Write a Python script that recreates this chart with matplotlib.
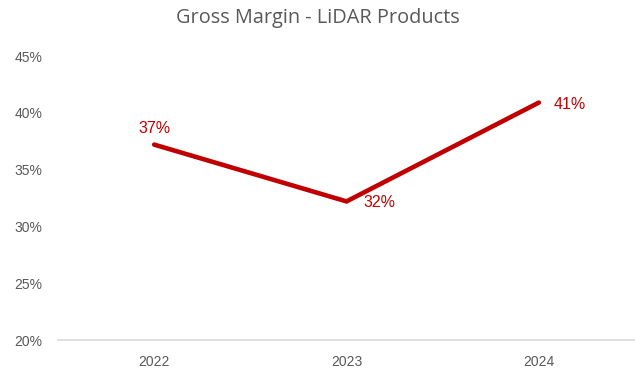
import matplotlib.pyplot as plt
from matplotlib.ticker import FuncFormatter

years = ['2022', '2023', '2024']
margin = [37.2, 32.2, 40.9]
labels = ['37%', '32%', '41%']

red = '#C00000'
gray = '#595959'
font = 'Liberation Sans'

fig = plt.figure(figsize=(6.35, 3.69), dpi=100)
ax = fig.add_axes([58 / 635, 29 / 369, 577 / 635, 284 / 369])

x = list(range(len(years)))
ax.plot(x, margin, color=red, linewidth=3.3, solid_capstyle='round', solid_joinstyle='miter')

# data labels
offsets = [(0, 11.5), (12, -0.7), (11, -1.5)]
aligns = [('center', 'center'), ('left', 'center'), ('left', 'center')]
for xi, yi, lab, off, al in zip(x, margin, labels, offsets, aligns):
    ax.annotate(lab, (xi, yi), xytext=off, textcoords='offset points',
                ha=al[0], va=al[1], color=red, fontsize=11.5, family=font)

ax.set_xlim(-0.5, 2.5)
ax.set_ylim(20, 45)
ax.set_xticks(x)
ax.set_xticklabels(years)
ax.set_yticks(range(20, 46, 5))
ax.yaxis.set_major_formatter(FuncFormatter(lambda v, p: f'{v:.0f}%'))

for s in ['top', 'right', 'left']:
    ax.spines[s].set_visible(False)
ax.spines['bottom'].set_color('#D9D9D9')
ax.spines['bottom'].set_linewidth(1.2)
ax.tick_params(axis='both', length=0, colors=gray, labelsize=10)
ax.tick_params(axis='x', pad=11)
ax.tick_params(axis='y', pad=11)
for t in ax.get_xticklabels() + ax.get_yticklabels():
    t.set_family(font)

fig.text(0.5, 0.95, 'Gross Margin - LiDAR Products', ha='center', va='center',
         fontsize=14.3, color=gray, family='Open Sans')

fig.savefig('out.png', dpi=100)
